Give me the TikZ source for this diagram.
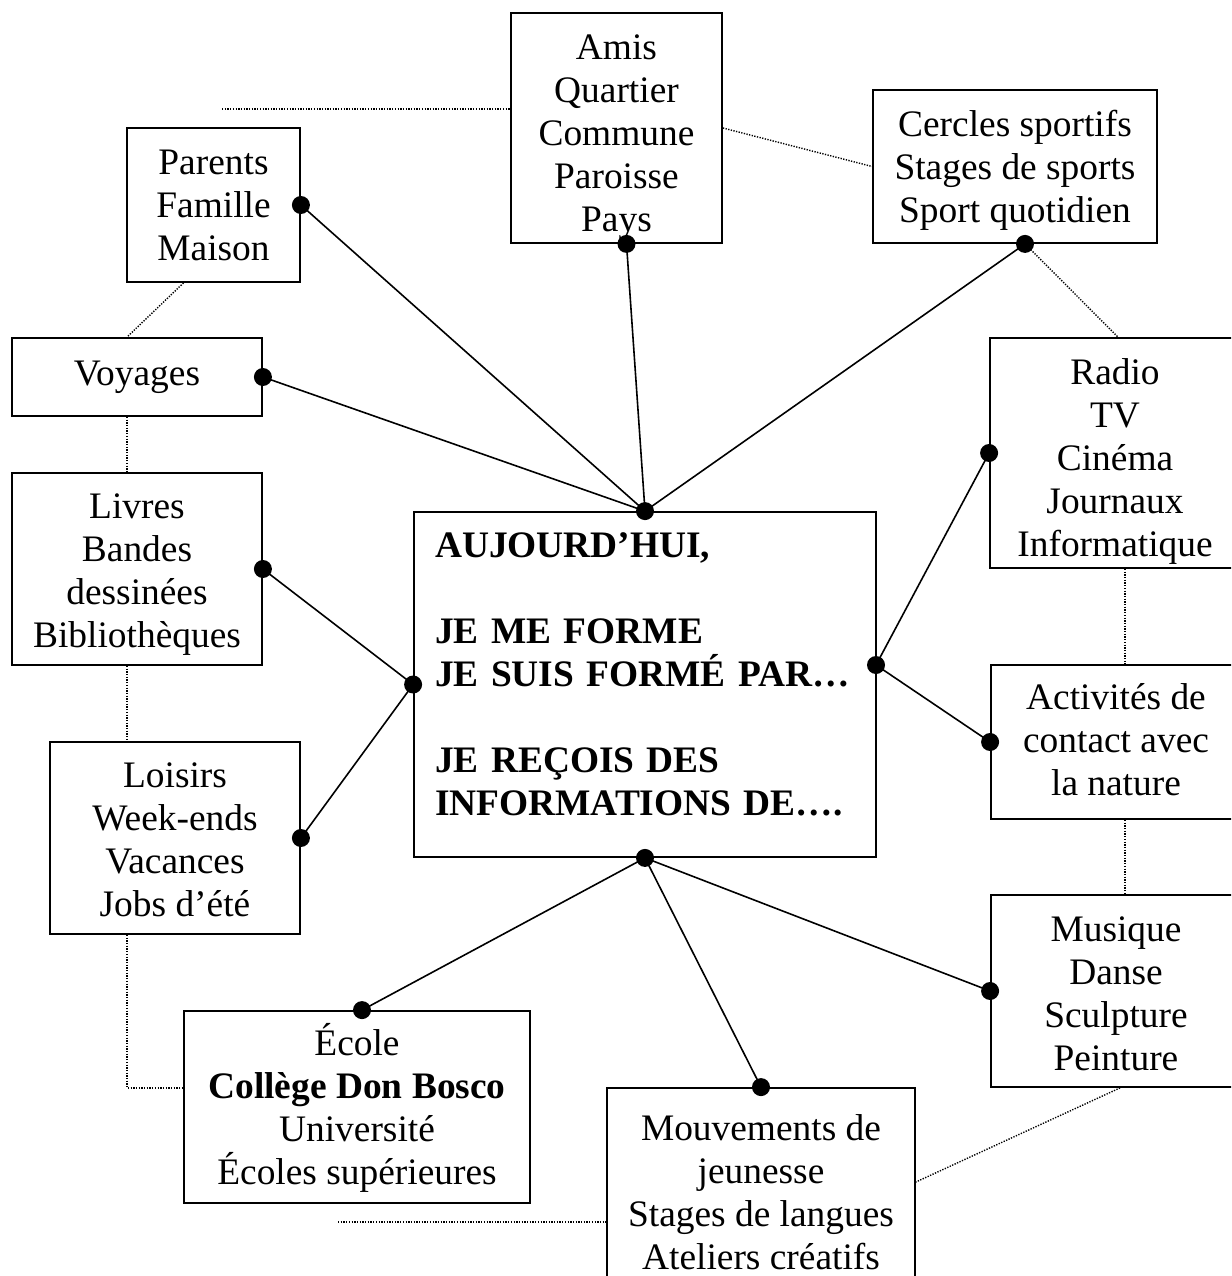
\documentclass[tikz,border=0pt]{standalone}
\usepackage{fontspec}
\setmainfont{Liberation Serif}
\begin{document}
\begin{tikzpicture}[x=1pt,y=-1pt,
  frame/.style={draw=black,line width=1.8pt,inner sep=0pt},
  txt/.style={inner sep=0pt,align=center,font=\fontsize{37.4}{43}\selectfont},
  link/.style={line width=1.6pt},
  dotline/.style={line width=1.4pt,dash pattern=on 1.3pt off 1.4pt,black},
  dotmark/.style={fill=black}]
\clip (0,0) rectangle (1231,1276);
\fill[white] (0,0) rectangle (1231,1276);
% boxes
\node[frame,minimum width=211pt,minimum height=230pt] (amis) at (616.5,128) {};
\node[frame,minimum width=173pt,minimum height=154pt] (parents) at (213.5,205) {};
\node[frame,minimum width=284pt,minimum height=153pt] (cercles) at (1015,166.5) {};
\node[frame,minimum width=250pt,minimum height=78pt] (voyages) at (137,377) {};
\node[frame,minimum width=250pt,minimum height=192pt] (livres) at (137,569) {};
\node[frame,minimum width=250pt,minimum height=192pt] (loisirs) at (175,838) {};
\node[frame,minimum width=346pt,minimum height=192pt] (ecole) at (357,1107) {};
\node[frame,minimum width=308pt,minimum height=224pt] (mouv) at (761,1200) {};
\node[frame,minimum width=250pt,minimum height=230pt] (radio) at (1115,453) {};
\node[frame,minimum width=250pt,minimum height=154pt] (activ) at (1116,742) {};
\node[frame,minimum width=250pt,minimum height=192pt] (musique) at (1116,991) {};
\node[frame,minimum width=462pt,minimum height=345pt] (center) at (645,684.5) {};
% texts
\node[txt] (amisT) at ([yshift=-9pt]amis.center) {Amis\\Quartier\\Commune\\Paroisse\\Pays};
\node[txt] (parentsT) at (parents.center) {Parents\\Famille\\Maison};
\node[txt] (cerclesT) at ([yshift=-4pt]cercles.center) {Cercles sportifs\\Stages de sports\\Sport quotidien};
\node[txt] (voyagesT) at (voyages.center) {Voyages};
\node[txt] (livresT) at ([yshift=-6pt]livres.center) {Livres\\Bandes\\dessinées\\Bibliothèques};
\node[txt] (loisirsT) at ([yshift=-2pt]loisirs.center) {Loisirs\\Week-ends\\Vacances\\Jobs d’été};
\node[txt] (ecoleT) at ([yshift=-1pt]ecole.center) {École\\\textbf{Collège Don Bosco}\\Université\\Écoles supérieures};
\node[txt] (mouvT) at ([yshift=8pt]mouv.center) {Mouvements de\\jeunesse\\Stages de langues\\Ateliers créatifs};
\node[txt] (radioT) at ([yshift=-9pt]radio.center) {Radio\\TV\\Cinéma\\Journaux\\Informatique};
\node[txt] (activT) at ([yshift=2pt]activ.center) {Activités de\\contact avec\\la nature};
\node[txt] (musiqueT) at ([yshift=-3pt]musique.center) {Musique\\Danse\\Sculpture\\Peinture};
\node[txt,align=left,text width=420pt,font=\fontsize{37.4}{43}\selectfont\bfseries] (centerT)
  at ([yshift=10pt]center.center)
  {AUJOURD’HUI,\\[43pt]JE ME FORME\\JE SUIS FORMÉ PAR…\\[43pt]JE REÇOIS DES\\INFORMATIONS DE….};
% free ends and attachment points
\coordinate (cE) at (876,665);
\coordinate (amisS) at ([xshift=10pt]amis.south);
\coordinate (cercS) at ([xshift=10pt]cercles.south);
\coordinate (ecoN) at ([xshift=5pt]ecole.north);
\coordinate (d1) at (222,109);
\coordinate (d2) at (338,1222);
% dotted connectors
\draw[dotline] (d1) -- (d1 -| amis.west);
\draw[dotline] (amis.east) -- (cercles.west);
\draw[dotline] (cercS) -- ([xshift=3pt]radio.north);
\draw[dotline] ([xshift=10pt]radio.south) -- ([xshift=9pt]activ.north);
\draw[dotline] ([xshift=9pt]activ.south) -- ([xshift=9pt]musique.north);
\draw[dotline] ([xshift=4pt]musique.south) -- ([yshift=18pt]mouv.east);
\draw[dotline] ([xshift=-30pt]parents.south) -- ([xshift=-10pt]voyages.north);
\draw[dotline] ([xshift=-10pt]voyages.south) -- ([xshift=-10pt]livres.north);
\draw[dotline] ([xshift=-10pt]livres.south) -- ([xshift=-48pt]loisirs.north);
\draw[dotline] ([xshift=-48pt]loisirs.south) |- ([yshift=19pt]ecole.west);
\draw[dotline] (d2) -- ([yshift=-22pt]mouv.west);
% solid connectors
\foreach \t in {parents.east,amisS,voyages.east,cercS}
  \draw[link] (center.north) -- (\t);
\foreach \t in {livres.east,loisirs.east}
  \draw[link] (center.west) -- (\t);
\foreach \t in {radio.west,activ.west}
  \draw[link] (cE) -- (\t);
\foreach \t in {ecoN,mouv.north,musique.west}
  \draw[link] (center.south) -- (\t);
% dots
\foreach \p in {center.north,center.south,center.west,cE,parents.east,amisS,voyages.east,cercS,
  livres.east,loisirs.east,radio.west,activ.west,ecoN,mouv.north,musique.west}
  \fill[dotmark] (\p) circle (9pt);
\end{tikzpicture}
\end{document}
